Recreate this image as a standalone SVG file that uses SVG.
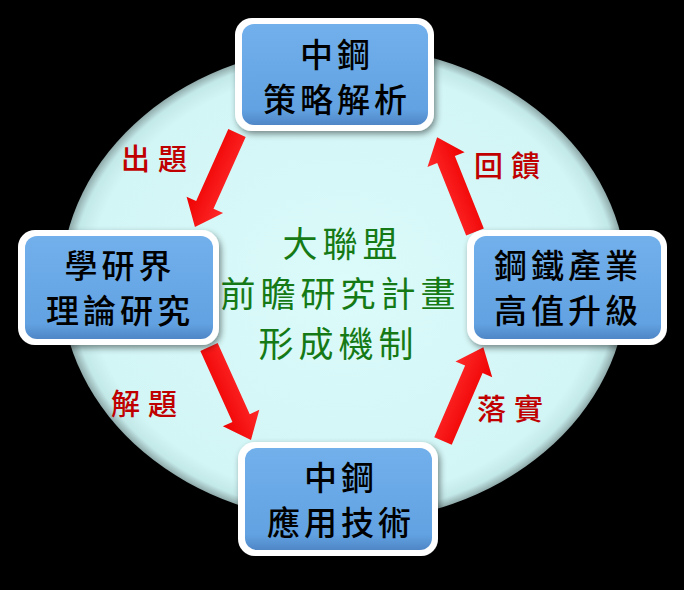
<svg xmlns="http://www.w3.org/2000/svg" width="684" height="590" viewBox="0 0 684 590">
  <defs>
    <radialGradient id="ellG" cx="0.5" cy="0.5" r="0.5">
      <stop offset="0" stop-color="#dcfbfb"/>
      <stop offset="0.9" stop-color="#d2f5f5"/>
      <stop offset="0.965" stop-color="#c3e8e8"/>
      <stop offset="1" stop-color="#8fa9a9"/>
    </radialGradient>
    <linearGradient id="boxG" x1="0" y1="0" x2="0" y2="1">
      <stop offset="0" stop-color="#72b0ec"/>
      <stop offset="0.85" stop-color="#62a2e2"/>
      <stop offset="1" stop-color="#4f86c6"/>
    </linearGradient>
    <linearGradient id="arrG" x1="0" y1="0" x2="0" y2="1">
      <stop offset="0" stop-color="#ff2a2a"/>
      <stop offset="1" stop-color="#ee0000"/>
    </linearGradient>
    <filter id="sh" x="-10%" y="-10%" width="125%" height="130%">
      <feDropShadow dx="2" dy="3" stdDeviation="3" flood-color="#000" flood-opacity="0.45"/>
    </filter>
    <path id="arrow" d="M0,-9.5 L78,-9.5 L78,-20 L102,0 L78,20 L78,9.5 L0,9.5 Z"/>
  </defs>
  <style>
    .outer { fill: #ffffff; filter: url(#sh); }
    .inner { fill: url(#boxG); }
    .bt { font-family: "Noto Sans CJK TC", "Noto Sans CJK SC", sans-serif; font-size: 33px; font-weight: 500; fill: #000; text-anchor: middle; letter-spacing: 4px; }
    .lbl { font-family: "Noto Sans CJK TC", "Noto Sans CJK SC", sans-serif; font-size: 29px; font-weight: 500; fill: #c00000; text-anchor: middle; letter-spacing: 8px; }
    .ctr { font-family: "Noto Sans CJK TC", "Noto Sans CJK SC", sans-serif; font-size: 35px; fill: #157a15; text-anchor: middle; letter-spacing: 5px; }
    .arr { fill: url(#arrG); }
  </style>
  <rect x="0" y="0" width="684" height="590" fill="#000"/>
  <ellipse id="circle" cx="344" cy="284" rx="283" ry="238" fill="url(#ellG)"/>

  <g id="center">
    <text class="ctr" x="342.5" y="257">大聯盟</text>
    <text class="ctr" x="340.5" y="307">前瞻研究計畫</text>
    <text class="ctr" x="338.5" y="357">形成機制</text>
  </g>

  <g id="connectors">
    <g id="c-top-left">
      <use href="#arrow" class="arr" transform="translate(237,133) rotate(114.1) scale(1.01,1)"/>
      <text class="lbl" x="158" y="170">出題</text>
    </g>
    <g id="c-left-bottom">
      <use href="#arrow" class="arr" transform="translate(209,347) rotate(65.7)"/>
      <text class="lbl" x="148" y="415">解題</text>
    </g>
    <g id="c-bottom-right">
      <use href="#arrow" class="arr" transform="translate(443,441) rotate(-66.7)"/>
      <text class="lbl" x="514" y="420">落實</text>
    </g>
    <g id="c-right-top">
      <use href="#arrow" class="arr" transform="translate(475,232) rotate(-111.8)"/>
      <text class="lbl" x="511" y="177">回饋</text>
    </g>
  </g>

  <g id="node-top">
    <rect class="outer" x="235" y="18" width="199" height="113" rx="17"/>
    <rect class="inner" x="242" y="24" width="186" height="101" rx="12"/>
    <text class="bt" x="337" y="67">中鋼</text>
    <text class="bt" x="337" y="112">策略解析</text>
  </g>
  <g id="node-left">
    <rect class="outer" x="18" y="230" width="201" height="115" rx="17"/>
    <rect class="inner" x="25" y="236" width="188" height="103" rx="12"/>
    <text class="bt" x="120" y="278">學研界</text>
    <text class="bt" x="120" y="323">理論研究</text>
  </g>
  <g id="node-right">
    <rect class="outer" x="467" y="230" width="200" height="115" rx="17"/>
    <rect class="inner" x="474" y="236" width="187" height="103" rx="12"/>
    <text class="bt" x="568" y="278">鋼鐵產業</text>
    <text class="bt" x="568" y="323">高值升級</text>
  </g>
  <g id="node-bottom">
    <rect class="outer" x="238" y="442" width="200" height="114" rx="17"/>
    <rect class="inner" x="245" y="448" width="187" height="102" rx="12"/>
    <text class="bt" x="341" y="490">中鋼</text>
    <text class="bt" x="341" y="535">應用技術</text>
  </g>
</svg>
